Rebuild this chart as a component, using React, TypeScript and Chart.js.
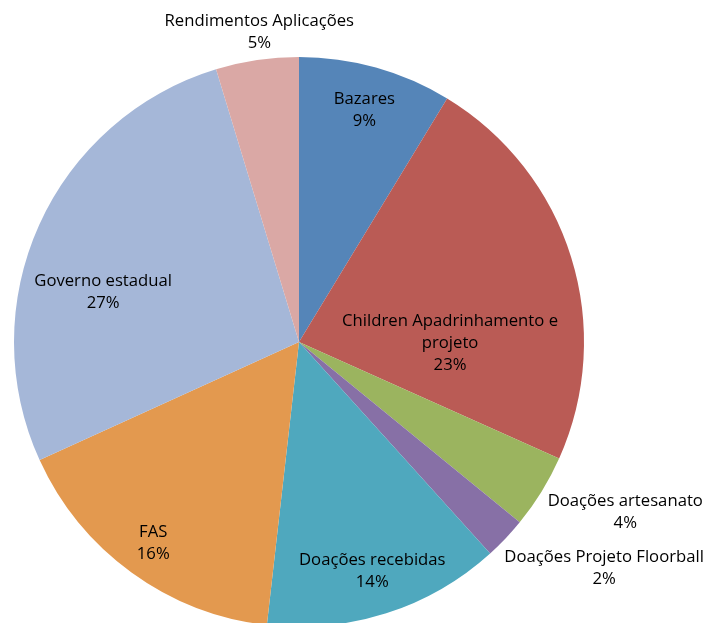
import React, { useEffect, useRef } from "react";
import { Chart, registerables } from "chart.js";

Chart.register(...registerables);

const categories = [
  "Bazares",
  "Children Apadrinhamento e projeto",
  "Doações artesanato",
  "Doações Projeto Floorball",
  "Doações recebidas",
  "FAS",
  "Governo estadual",
  "Rendimentos Aplicações",
];
const labelLines = [
  ["Bazares"],
  ["Children Apadrinhamento e", "projeto"],
  ["Doações artesanato"],
  ["Doações Projeto Floorball"],
  ["Doações recebidas"],
  ["FAS"],
  ["Governo estadual"],
  ["Rendimentos Aplicações"],
];
const values = [8.7, 23.0, 4.2, 2.4, 13.5, 16.4, 27.1, 4.7];
const percentLabels = ["9%", "23%", "4%", "2%", "14%", "16%", "27%", "5%"];
const colors = ["#5585B8", "#BA5B55", "#9BB45F", "#8770A6", "#4FA8BE", "#E3994F", "#A5B7D8", "#DAA8A5"];
// label placement: fraction along slice angle, fraction of outer radius
const labelAngleFrac = [0.5, 0.71, 0.22, -0.33, 0.5, 0.5, 0.4, 0.57];
const labelRadiusFrac = [0.85, 0.53, 1.29, 1.33, 0.84, 0.87, 0.71, 1.1];

const labelPlugin = {
  id: "pieLabels",
  afterDatasetsDraw(chart: any) {
    const ctx = chart.ctx;
    const meta = chart.getDatasetMeta(0);
    ctx.save();
    ctx.font = "16.7px 'Open Sans', Lato, sans-serif";
    ctx.fillStyle = "#000";
    ctx.textAlign = "center";
    ctx.textBaseline = "middle";
    const lh = 22;
    meta.data.forEach((arc: any, i: number) => {
      const p = arc.getProps(["x", "y", "startAngle", "endAngle", "outerRadius"], true);
      const a = p.startAngle + (p.endAngle - p.startAngle) * labelAngleFrac[i];
      const r = p.outerRadius * labelRadiusFrac[i];
      const cx = p.x + Math.cos(a) * r;
      const cy = p.y + Math.sin(a) * r + 1;
      const lines = [...labelLines[i], percentLabels[i]];
      const y0 = cy - ((lines.length - 1) * lh) / 2;
      lines.forEach((t, k) => ctx.fillText(t, cx, y0 + k * lh));
    });
    ctx.restore();
  },
};

export default function App() {
  const ref = useRef<HTMLCanvasElement | null>(null);
  useEffect(() => {
    document.body.style.margin = "0";
    document.body.style.overflow = "hidden";
    const chart = new Chart(ref.current as HTMLCanvasElement, {
      type: "pie",
      data: {
        labels: categories,
        datasets: [
          {
            data: values,
            backgroundColor: colors,
            borderWidth: 0,
          },
        ],
      },
      options: {
        animation: false,
        responsive: false,
        layout: { padding: { left: 14, right: 125, top: 57, bottom: 13 } },
        plugins: { legend: { display: false }, tooltip: { enabled: false } },
      },
      plugins: [labelPlugin],
    } as any);
    return () => chart.destroy();
  }, []);
  return (
    <div style={{ position: "fixed", left: 0, top: 0, width: 709, height: 623, overflow: "hidden", background: "#fff" }}>
      <canvas ref={ref} width={709} height={640} style={{ display: "block", width: 709, height: 640 }} />
    </div>
  );
}
